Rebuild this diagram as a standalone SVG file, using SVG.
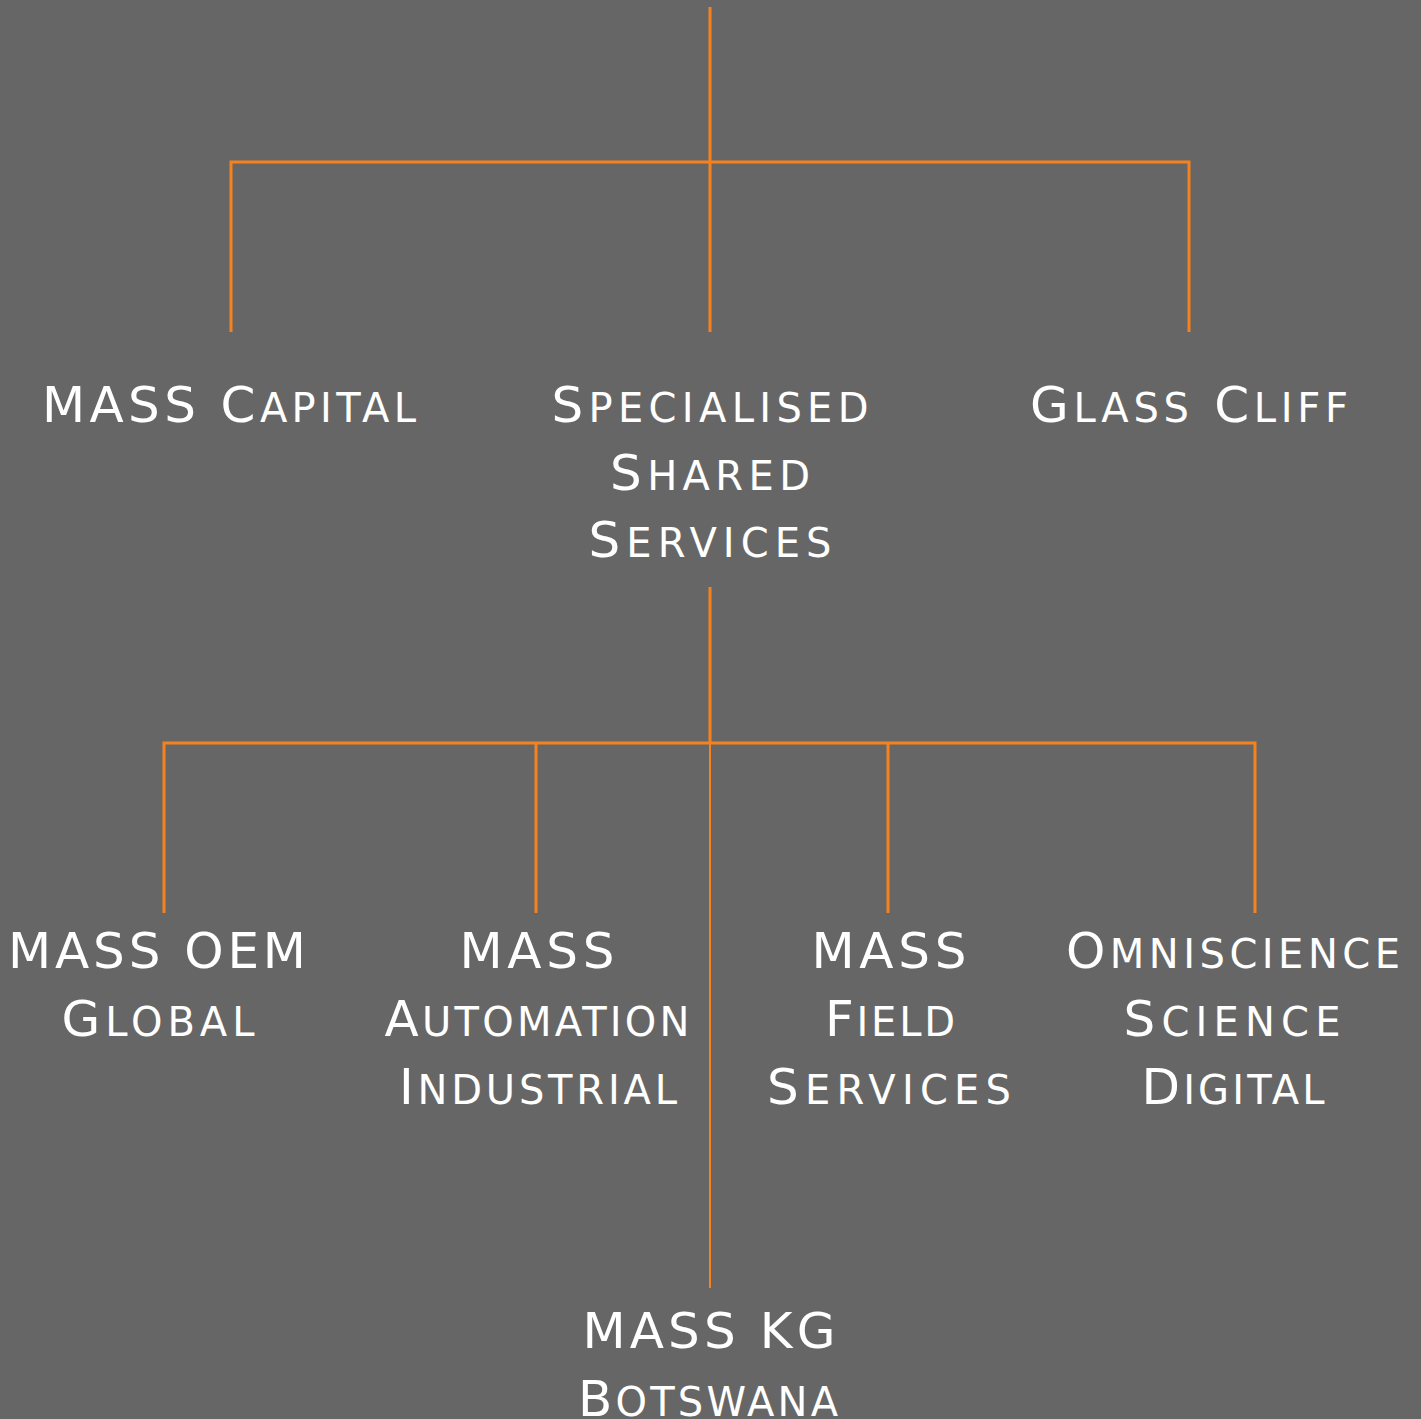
<svg xmlns="http://www.w3.org/2000/svg" width="1421" height="1419" viewBox="0 0 1421 1419">
<style>
.bg{fill:#666666}
.c{stroke:#F5821F;stroke-width:3;fill:none}
.thin{stroke:#F5821F;stroke-width:2;fill:none}
text{font-family:"DejaVu Sans",sans-serif;font-size:50px;fill:#ffffff;text-anchor:middle;font-variant:small-caps}
.l{font-size:57px}
</style>
<rect class="bg" x="0" y="0" width="1421" height="1419"/>
<g id="connectors">
<path class="c" d="M710 7V162M231 332V162H1189V332M710 162V332"/>
<path class="c" d="M710 587V743M164 913V743H1255V913M536 743V913M888 743V913"/>
<path class="thin" d="M710 743V1288"/>
</g>
<g id="mass-capital"><text x="229" y="422" textLength="374" lengthAdjust="spacing">MASS C<tspan class="l">apital</tspan></text></g>
<g id="specialised-shared-services">
<text x="710" y="422" textLength="317" lengthAdjust="spacing">S<tspan class="l">pecialised</tspan></text>
<text x="710" y="490" textLength="200" lengthAdjust="spacing">S<tspan class="l">hared</tspan></text>
<text x="710" y="557" textLength="243" lengthAdjust="spacing">S<tspan class="l">ervices</tspan></text>
</g>
<g id="glass-cliff"><text x="1189" y="422" textLength="318" lengthAdjust="spacing">G<tspan class="l">lass</tspan> C<tspan class="l">liff</tspan></text></g>
<g id="mass-oem-global">
<text x="157" y="968" textLength="298" lengthAdjust="spacing">MASS OEM</text>
<text x="158" y="1036" textLength="193" lengthAdjust="spacing">G<tspan class="l">lobal</tspan></text>
</g>
<g id="mass-automation-industrial">
<text x="537" y="968" textLength="155" lengthAdjust="spacing">MASS</text>
<text x="537" y="1036" textLength="305" lengthAdjust="spacing">A<tspan class="l">utomation</tspan></text>
<text x="538" y="1104" textLength="278" lengthAdjust="spacing">I<tspan class="l">ndustrial</tspan></text>
</g>
<g id="mass-field-services">
<text x="889" y="968" textLength="155" lengthAdjust="spacing">MASS</text>
<text x="890" y="1036" textLength="130" lengthAdjust="spacing">F<tspan class="l">ield</tspan></text>
<text x="889" y="1104" textLength="244" lengthAdjust="spacing">S<tspan class="l">ervices</tspan></text>
</g>
<g id="omniscience-science-digital">
<text x="1233" y="968" textLength="334" lengthAdjust="spacing">O<tspan class="l">mniscience</tspan></text>
<text x="1232" y="1036" textLength="217" lengthAdjust="spacing">S<tspan class="l">cience</tspan></text>
<text x="1233" y="1104" textLength="183" lengthAdjust="spacing">D<tspan class="l">igital</tspan></text>
</g>
<g id="mass-kg-botswana">
<text x="709" y="1348" textLength="253" lengthAdjust="spacing">MASS KG</text>
<text x="708" y="1416" textLength="260" lengthAdjust="spacing">B<tspan class="l">otswana</tspan></text>
</g>
</svg>
